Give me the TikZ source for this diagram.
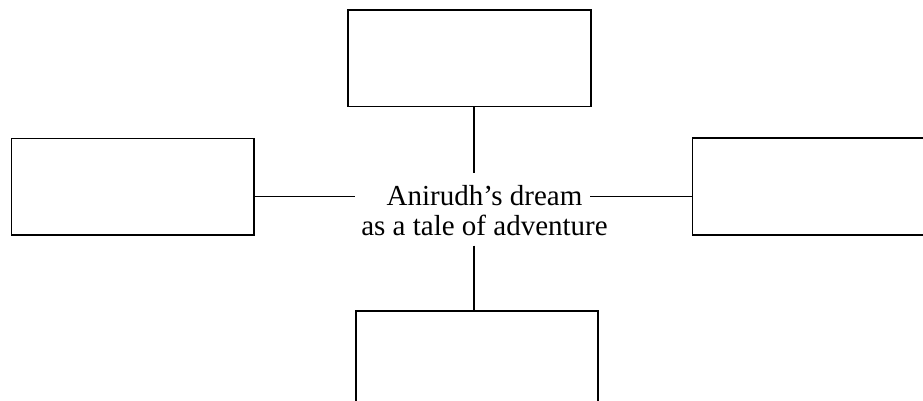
\documentclass[tikz,border=0pt]{standalone}
\usepackage{fontspec}
\setmainfont{Liberation Serif}
\begin{document}
\begin{tikzpicture}[x=1pt,y=1pt,
  box/.style={draw=black,line width=1.6pt,minimum width=242.5pt,minimum height=96.7pt,inner sep=0pt},
  conn/.style={draw=black,line width=1.5pt}]
\useasboundingbox (0,0) rectangle (923,400);
\begin{scope}
\clip (0,0) rectangle (923,400);
\node[box] (top) at (469.5,341.7) {};
\node[box] (left) at (132.8,213.3) {};
\node[box] (right) at (813.8,213.6) {};
\node[box] (bottom) at (477,40.7) {};
\node[anchor=base,align=center,inner sep=0pt,font=\fontsize{29}{30}\selectfont] (center) at (484.5,165) {Anirudh’s dream\\as a tale of adventure};
\coordinate (ct) at (474,226.7);
\coordinate (cl) at (355,203.3);
\coordinate (cr) at (590,203.3);
\coordinate (cb) at (474,154.3);
\draw[conn] (top.south -| ct) -- (ct);
\draw[conn] (left.east |- cl) -- (cl);
\draw[conn] (cr) -- (right.west |- cr);
\draw[conn] (cb) -- (bottom.north -| cb);
\end{scope}
\end{tikzpicture}
\end{document}
